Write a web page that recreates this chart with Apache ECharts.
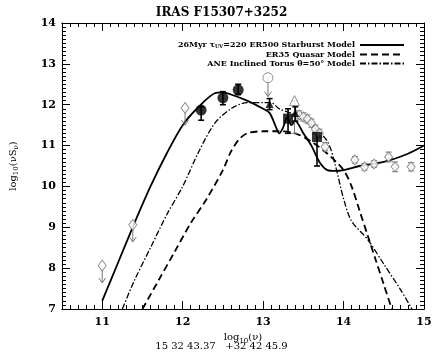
<!DOCTYPE html>
<html>
<head>
<meta charset="utf-8">
<script src="https://cdn.jsdelivr.net/npm/echarts@6/dist/echarts.min.js"></script>
<style>
  html, body { margin: 0; padding: 0; background: #fff; }
  #chart { width: 443px; height: 354px; }
</style>
</head>
<body>
<div id="chart"></div>
<script>
// model curves, [log nu, log nuSnu]
var starburst = [[11.0, 7.2], [11.2, 8.15], [11.4, 9.1], [11.6, 10.0], [11.8, 10.8], [12.0, 11.5],
  [12.2, 11.95], [12.4, 12.28], [12.5, 12.3], [12.6, 12.25], [12.8, 12.1], [13.0, 11.9],
  [13.08, 11.8], [13.15, 11.5], [13.2, 11.3], [13.25, 11.45], [13.3, 11.7], [13.35, 11.5],
  [13.4, 11.6], [13.5, 11.3], [13.6, 11.0], [13.7, 10.6], [13.8, 10.4], [13.9, 10.38],
  [14.0, 10.4], [14.2, 10.5], [14.5, 10.6], [14.8, 10.8], [15.0, 11.0]];
var quasar = [[11.5, 7.0], [11.7, 7.7], [11.9, 8.4], [12.1, 9.1], [12.3, 9.7], [12.5, 10.4],
  [12.6, 10.85], [12.7, 11.15], [12.8, 11.3], [13.0, 11.35], [13.2, 11.35], [13.4, 11.3],
  [13.6, 11.1], [13.8, 10.8], [14.0, 10.4], [14.1, 10.0], [14.2, 9.4], [14.3, 8.8],
  [14.4, 8.2], [14.5, 7.6], [14.6, 7.0]];
var torus = [[11.25, 7.0], [11.4, 7.7], [11.6, 8.5], [11.8, 9.3], [12.0, 10.0], [12.2, 10.85],
  [12.4, 11.55], [12.6, 11.9], [12.8, 12.05], [13.0, 12.05], [13.1, 12.05], [13.2, 11.9],
  [13.4, 11.75], [13.6, 11.5], [13.8, 11.1], [13.9, 10.5], [14.0, 9.7], [14.1, 9.15],
  [14.3, 8.7], [14.5, 8.1], [14.7, 7.5], [14.85, 7.0]];

// photometry
var limitDiamonds = [[11.0, 8.06, 7.64], [11.38, 9.06, 8.64], [12.03, 11.92, 11.5]]; // x, y, arrow end
var limitCircles = [[13.06, 12.66, 12.2]];
var openTriangles = [[13.39, 12.1, 11.3, 12.1]]; // x, y, lo, hi
var smallDiamonds = [[13.45, 11.75, 11.65, 11.85], [13.5, 11.7, 11.6, 11.8], [13.55, 11.65, 11.55, 11.75],
  [13.6, 11.55, 11.45, 11.65], [13.65, 11.4, 11.3, 11.5], [13.7, 11.3, 11.2, 11.4],
  [13.77, 10.97, 10.87, 11.07], [14.14, 10.65, 10.57, 10.73], [14.26, 10.48, 10.4, 10.56],
  [14.38, 10.55, 10.47, 10.63], [14.56, 10.72, 10.6, 10.84], [14.64, 10.48, 10.36, 10.6],
  [14.84, 10.48, 10.38, 10.58]];
var filledCircles = [[12.23, 11.87, 11.62, 11.95], [12.5, 12.17, 12.0, 12.32], [12.69, 12.36, 12.25, 12.5]];
var filledTriangles = [[13.08, 12.02, 11.88, 12.15], [13.4, 11.8, 11.6, 11.95]];
var filledSquares = [[13.31, 11.66, 11.3, 11.9], [13.67, 11.21, 10.5, 11.35]];

var majorX = [11, 12, 13, 14, 15];
var minorX = [];
for (var i = 105; i <= 150; i++) minorX.push(i / 10);

var serif = "DejaVu Serif";

var chart = echarts.init(document.getElementById("chart"));

function errBars(params, api) {
  var x = api.value(0);
  var lo = api.coord([x, api.value(2)]);
  var hi = api.coord([x, api.value(3)]);
  var open = params.seriesName === "errOpen";
  var st = { stroke: open ? "#777" : "#000", lineWidth: open ? 1 : 1.6 };
  return {
    type: "group",
    children: [
      { type: "line", shape: { x1: lo[0], y1: lo[1], x2: hi[0], y2: hi[1] }, style: st },
      { type: "line", shape: { x1: lo[0] - 3, y1: lo[1], x2: lo[0] + 3, y2: lo[1] }, style: st },
      { type: "line", shape: { x1: hi[0] - 3, y1: hi[1], x2: hi[0] + 3, y2: hi[1] }, style: st }
    ]
  };
}

function limitArrows(params, api) {
  var x = api.value(0);
  var a = api.coord([x, api.value(1)]);
  var b = api.coord([x, api.value(2)]);
  var st = { stroke: "#777", lineWidth: 1, fill: null };
  return {
    type: "group",
    children: [
      { type: "line", shape: { x1: a[0], y1: a[1], x2: b[0], y2: b[1] }, style: st },
      { type: "polyline", shape: { points: [[b[0] - 3.5, b[1] - 5], [b[0], b[1]], [b[0] + 3.5, b[1] - 5]] }, style: st }
    ]
  };
}

function xAxisDef(pos, values, len, labels) {
  return {
    type: "value", position: pos, min: 10.5, max: 15,
    axisLine: { show: true, onZero: false, lineStyle: { color: "#000", width: 1 } },
    axisTick: { show: true, inside: true, length: len, customValues: values, lineStyle: { color: "#000" } },
    axisLabel: { show: labels, customValues: majorX, color: "#000", fontFamily: serif, fontSize: 11, fontWeight: "bold", margin: 8 },
    splitLine: { show: false }
  };
}

function yAxisDef(pos, labels) {
  return {
    type: "value", position: pos, min: 7, max: 14, interval: 1,
    axisLine: { show: true, onZero: false, lineStyle: { color: "#000", width: 1 } },
    axisTick: { show: true, inside: true, length: 8, lineStyle: { color: "#000" } },
    minorTick: { show: true, splitNumber: 10, length: 4, lineStyle: { color: "#000" } },
    axisLabel: { show: labels, color: "#000", fontFamily: serif, fontSize: 11, fontWeight: "bold", margin: 6 },
    splitLine: { show: false }
  };
}

var option = {
  animation: false,
  backgroundColor: "#fff",
  title: [
    { text: "IRAS F15307+3252", left: "center", top: 2, textStyle: { fontFamily: serif, fontSize: 12, fontWeight: "bold", color: "#000" } },
    { text: "15 32 43.37   +32 42 45.9", left: "center", top: 336, textStyle: { fontFamily: serif, fontSize: 10, fontWeight: "normal", color: "#000" } }
  ],
  grid: { left: 62, right: 19, top: 23, bottom: 45 },
  xAxis: [
    Object.assign(xAxisDef("bottom", majorX, 8, true), {
      name: "{a|log}{s|10}{a|(ν)}", nameLocation: "middle", nameGap: 22,
      nameTextStyle: { rich: { a: { fontFamily: serif, fontSize: 10, color: "#000" }, s: { fontFamily: serif, fontSize: 7, color: "#000", padding: [6, 0, 0, 0] } } }
    }),
    xAxisDef("bottom", minorX, 4, false),
    xAxisDef("top", majorX, 8, false),
    xAxisDef("top", minorX, 4, false)
  ],
  yAxis: [
    Object.assign(yAxisDef("left", true), {
      name: "{a|log}{s|10}{a|(νS}{s|ν}{a|)}", nameLocation: "middle", nameGap: 42, nameRotate: 90,
      nameTextStyle: { rich: { a: { fontFamily: serif, fontSize: 10, color: "#000" }, s: { fontFamily: serif, fontSize: 7, color: "#000", padding: [6, 0, 0, 0] } } }
    }),
    yAxisDef("right", false)
  ],
  legend: {
    orient: "vertical", right: 33, top: 36, align: "right", itemGap: 1,
    itemWidth: 44, itemHeight: 9,
    itemStyle: { opacity: 0 },
    data: ["starburst", "quasar", "torus"],
    formatter: function (n) {
      if (n === "starburst") return "26Myr {t|τ}{s|UV}=220 ER500 Starburst Model";
      if (n === "quasar") return "ER35 Quasar Model";
      return "ANE Inclined Torus θ=50° Model";
    },
    textStyle: {
      fontFamily: serif, fontSize: 8, fontWeight: "bold", color: "#000",
      rich: { t: { fontFamily: serif, fontSize: 8, color: "#000" }, s: { fontFamily: serif, fontSize: 5, color: "#000", padding: [4, 0, 0, 0] } }
    }
  },
  series: [
    { name: "starburst", type: "line", data: starburst, symbol: "none", smooth: 0.3, lineStyle: { color: "#000", width: 1.8, type: "solid" }, itemStyle: { color: "#000" }, z: 3 },
    { name: "quasar", type: "line", data: quasar, symbol: "none", smooth: 0.3, lineStyle: { color: "#000", width: 1.8, type: [7, 4] }, itemStyle: { color: "#000" }, z: 3 },
    { name: "torus", type: "line", data: torus, symbol: "none", smooth: 0.3, lineStyle: { color: "#000", width: 1.3, type: [6, 2, 1.5, 2] }, itemStyle: { color: "#000" }, z: 3 },
    { name: "arrows", type: "custom", renderItem: limitArrows, data: limitDiamonds.concat(limitCircles), z: 4 },
    { name: "errOpen", type: "custom", renderItem: errBars, data: smallDiamonds.concat(openTriangles), z: 4 },
    { name: "errFilled", type: "custom", renderItem: errBars, data: filledCircles.concat(filledTriangles, filledSquares), z: 4 },
    { type: "scatter", data: limitDiamonds, symbol: "diamond", symbolSize: [8, 11], itemStyle: { color: "#fff", borderColor: "#777", borderWidth: 1 }, z: 5 },
    { type: "scatter", data: smallDiamonds, symbol: "diamond", symbolSize: [8, 10], itemStyle: { color: "#fff", borderColor: "#777", borderWidth: 1 }, z: 5 },
    { type: "scatter", data: limitCircles, symbol: "circle", symbolSize: 10, itemStyle: { color: "#fff", borderColor: "#777", borderWidth: 1 }, z: 5 },
    { type: "scatter", data: openTriangles, symbol: "triangle", symbolSize: 10, itemStyle: { color: "#fff", borderColor: "#777", borderWidth: 1 }, z: 5 },
    { type: "scatter", data: filledCircles, symbol: "circle", symbolSize: 11, itemStyle: { color: "#000" }, z: 6 },
    { type: "scatter", data: filledTriangles, symbol: "triangle", symbolSize: 8, itemStyle: { color: "#000" }, z: 6 },
    { type: "scatter", data: filledSquares, symbol: "rect", symbolSize: 10, itemStyle: { color: "#000" }, z: 6 }
  ]
};
chart.setOption(option);
</script>
</body>
</html>
